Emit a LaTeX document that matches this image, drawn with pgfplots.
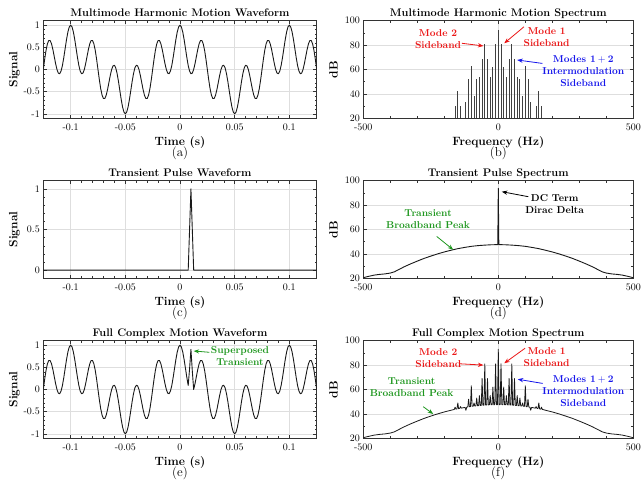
\documentclass[border=0pt]{standalone}
\usepackage{pgfplots}
\pgfplotsset{compat=1.18}
\usepackage{pgfplotstable}
\usetikzlibrary{arrows.meta}

\definecolor{annred}{RGB}{235,22,22}
\definecolor{annblue}{RGB}{22,22,235}
\definecolor{anngreen}{RGB}{30,150,30}

% time samples (s), two-mode signal, two-mode signal with the transient added
\pgfplotstableread{
t a e
-0.125 0 0
-0.12375 0.2306 0.2306
-0.1225 0.4318 0.4318
-0.12125 0.5787 0.5787
-0.12 0.6545 0.6545
-0.11875 0.6533 0.6533
-0.1175 0.5806 0.5806
-0.11625 0.4526 0.4526
-0.115 0.2939 0.2939
-0.11375 0.1334 0.1334
-0.1125 0 0
-0.11125 -0.0817 -0.0817
-0.11 -0.0955 -0.0955
-0.10875 -0.0356 -0.0356
-0.1075 0.0920 0.0920
-0.10625 0.2706 0.2706
-0.105 0.4755 0.4755
-0.10375 0.6775 0.6775
-0.1025 0.8474 0.8474
-0.10125 0.9604 0.9604
-0.1 1 1
-0.09875 0.9604 0.9604
-0.0975 0.8474 0.8474
-0.09625 0.6775 0.6775
-0.095 0.4755 0.4755
-0.09375 0.2706 0.2706
-0.0925 0.0920 0.0920
-0.09125 -0.0356 -0.0356
-0.09 -0.0955 -0.0955
-0.08875 -0.0817 -0.0817
-0.0875 0 0
-0.08625 0.1334 0.1334
-0.085 0.2939 0.2939
-0.08375 0.4526 0.4526
-0.0825 0.5806 0.5806
-0.08125 0.6533 0.6533
-0.08 0.6545 0.6545
-0.07875 0.5787 0.5787
-0.0775 0.4318 0.4318
-0.07625 0.2306 0.2306
-0.075 0 0
-0.07375 -0.2306 -0.2306
-0.0725 -0.4318 -0.4318
-0.07125 -0.5787 -0.5787
-0.07 -0.6545 -0.6545
-0.06875 -0.6533 -0.6533
-0.0675 -0.5806 -0.5806
-0.06625 -0.4526 -0.4526
-0.065 -0.2939 -0.2939
-0.06375 -0.1334 -0.1334
-0.0625 0 0
-0.06125 0.0817 0.0817
-0.06 0.0955 0.0955
-0.05875 0.0356 0.0356
-0.0575 -0.0920 -0.0920
-0.05625 -0.2706 -0.2706
-0.055 -0.4755 -0.4755
-0.05375 -0.6775 -0.6775
-0.0525 -0.8474 -0.8474
-0.05125 -0.9604 -0.9604
-0.05 -1 -1
-0.04875 -0.9604 -0.9604
-0.0475 -0.8474 -0.8474
-0.04625 -0.6775 -0.6775
-0.045 -0.4755 -0.4755
-0.04375 -0.2706 -0.2706
-0.0425 -0.0920 -0.0920
-0.04125 0.0356 0.0356
-0.04 0.0955 0.0955
-0.03875 0.0817 0.0817
-0.0375 0 0
-0.03625 -0.1334 -0.1334
-0.035 -0.2939 -0.2939
-0.03375 -0.4526 -0.4526
-0.0325 -0.5806 -0.5806
-0.03125 -0.6533 -0.6533
-0.03 -0.6545 -0.6545
-0.02875 -0.5787 -0.5787
-0.0275 -0.4318 -0.4318
-0.02625 -0.2306 -0.2306
-0.025 0 0
-0.02375 0.2306 0.2306
-0.0225 0.4318 0.4318
-0.02125 0.5787 0.5787
-0.02 0.6545 0.6545
-0.01875 0.6533 0.6533
-0.0175 0.5806 0.5806
-0.01625 0.4526 0.4526
-0.015 0.2939 0.2939
-0.01375 0.1334 0.1334
-0.0125 0 0
-0.01125 -0.0817 -0.0817
-0.01 -0.0955 -0.0955
-0.00875 -0.0356 -0.0356
-0.0075 0.0920 0.0920
-0.00625 0.2706 0.2706
-0.005 0.4755 0.4755
-0.00375 0.6775 0.6775
-0.0025 0.8474 0.8474
-0.00125 0.9604 0.9604
0 1 1
0.00125 0.9604 0.9604
0.0025 0.8474 0.8474
0.00375 0.6775 0.6775
0.005 0.4755 0.4755
0.00625 0.2706 0.2706
0.0075 0.0920 0.0920
0.00875 -0.0356 0.4644
0.01 -0.0955 0.9045
0.01125 -0.0817 0.4183
0.0125 0 0
0.01375 0.1334 0.1334
0.015 0.2939 0.2939
0.01625 0.4526 0.4526
0.0175 0.5806 0.5806
0.01875 0.6533 0.6533
0.02 0.6545 0.6545
0.02125 0.5787 0.5787
0.0225 0.4318 0.4318
0.02375 0.2306 0.2306
0.025 0 0
0.02625 -0.2306 -0.2306
0.0275 -0.4318 -0.4318
0.02875 -0.5787 -0.5787
0.03 -0.6545 -0.6545
0.03125 -0.6533 -0.6533
0.0325 -0.5806 -0.5806
0.03375 -0.4526 -0.4526
0.035 -0.2939 -0.2939
0.03625 -0.1334 -0.1334
0.0375 0 0
0.03875 0.0817 0.0817
0.04 0.0955 0.0955
0.04125 0.0356 0.0356
0.0425 -0.0920 -0.0920
0.04375 -0.2706 -0.2706
0.045 -0.4755 -0.4755
0.04625 -0.6775 -0.6775
0.0475 -0.8474 -0.8474
0.04875 -0.9604 -0.9604
0.05 -1 -1
0.05125 -0.9604 -0.9604
0.0525 -0.8474 -0.8474
0.05375 -0.6775 -0.6775
0.055 -0.4755 -0.4755
0.05625 -0.2706 -0.2706
0.0575 -0.0920 -0.0920
0.05875 0.0356 0.0356
0.06 0.0955 0.0955
0.06125 0.0817 0.0817
0.0625 0 0
0.06375 -0.1334 -0.1334
0.065 -0.2939 -0.2939
0.06625 -0.4526 -0.4526
0.0675 -0.5806 -0.5806
0.06875 -0.6533 -0.6533
0.07 -0.6545 -0.6545
0.07125 -0.5787 -0.5787
0.0725 -0.4318 -0.4318
0.07375 -0.2306 -0.2306
0.075 0 0
0.07625 0.2306 0.2306
0.0775 0.4318 0.4318
0.07875 0.5787 0.5787
0.08 0.6545 0.6545
0.08125 0.6533 0.6533
0.0825 0.5806 0.5806
0.08375 0.4526 0.4526
0.085 0.2939 0.2939
0.08625 0.1334 0.1334
0.0875 0 0
0.08875 -0.0817 -0.0817
0.09 -0.0955 -0.0955
0.09125 -0.0356 -0.0356
0.0925 0.0920 0.0920
0.09375 0.2706 0.2706
0.095 0.4755 0.4755
0.09625 0.6775 0.6775
0.0975 0.8474 0.8474
0.09875 0.9604 0.9604
0.1 1 1
0.10125 0.9604 0.9604
0.1025 0.8474 0.8474
0.10375 0.6775 0.6775
0.105 0.4755 0.4755
0.10625 0.2706 0.2706
0.1075 0.0920 0.0920
0.10875 -0.0356 -0.0356
0.11 -0.0955 -0.0955
0.11125 -0.0817 -0.0817
0.1125 0 0
0.11375 0.1334 0.1334
0.115 0.2939 0.2939
0.11625 0.4526 0.4526
0.1175 0.5806 0.5806
0.11875 0.6533 0.6533
0.12 0.6545 0.6545
0.12125 0.5787 0.5787
0.1225 0.4318 0.4318
0.12375 0.2306 0.2306
0.125 0 0
}\wavedata

\newcommand{\titlefont}{\fontsize{11}{13}\selectfont\bfseries}
\newcommand{\labelfont}{\fontsize{12}{14}\selectfont\bfseries}
\newcommand{\letterfont}{\fontsize{13}{15}\selectfont}
\newcommand{\annfont}{\fontsize{10}{12}\selectfont\bfseries}

% title, x label, y label and panel letter around the current axis
\newcommand{\paneltext}[4]{%
  \node[anchor=base, yshift=4pt, font=\titlefont] at (rel axis cs:0.5,1) {#1};
  \node[anchor=base, yshift=-26.8pt, font=\labelfont] at (rel axis cs:0.5,0) {#2};
  \node[anchor=base, yshift=-38.6pt, font=\letterfont] at (rel axis cs:0.5,0) {#4};
  \node[xshift=-25.8pt, rotate=90, anchor=base, font=\labelfont] at (rel axis cs:0,0.5) {#3};
}

\tikzset{
  arr/.style={-{Stealth[length=5.5pt,width=4.2pt]}, line width=0.8pt},
  ann/.style={font=\annfont, align=center},
}

\pgfplotsset{
  panel/.style={
    scale only axis, height=97.6pt, anchor=north west,
    clip mode=individual,
    axis line style={black!80, line width=0.5pt},
    every tick/.style={black!80, line width=0.45pt},
    major tick length=3.2pt, minor tick length=2pt,
    tick align=inside, tick pos=both,
    grid=major,
    major grid style={black!13, line width=0.45pt},
    tick label style={font=\fontsize{10}{12}\selectfont},
    xticklabel style={yshift=-2.2pt},
    scaled ticks=false,
  },
  timeaxis/.style={panel, width=273.4pt,
    xmin=-0.125, xmax=0.125,
    xtick={-0.1,-0.05,0,0.05,0.1}, xticklabels={-0.1,-0.05,0,0.05,0.1},
    minor x tick num=4, minor y tick num=4},
  freqaxis/.style={panel, width=270pt,
    xmin=-500, xmax=500, ymin=20, ymax=100,
    xtick={-500,0,500}, xticklabels={-500,0,500},
    ytick={20,40,60,80,100},
    minor x tick num=4, minor y tick num=1},
  wave/.style={black!90, line width=0.9pt, line join=round},
}

\begin{document}
\begin{tikzpicture}

% (a) two-mode waveform
\begin{axis}[timeaxis, at={(43.3pt,-20.7pt)},
  ymin=-1.1, ymax=1.1, ytick={-1,-0.5,0,0.5,1}, yticklabels={-1,-0.5,0,0.5,1}]
\addplot[wave] table[x=t, y=a] {\wavedata};
\paneltext{Multimode Harmonic Motion Waveform}{Time (s)}{Signal}{(a)}
\end{axis}

% (b) line spectrum of the two-mode signal
\begin{axis}[freqaxis, at={(363.3pt,-20.7pt)}]
\addplot[ycomb, black!75, line width=1pt] coordinates {
(-160,30) (-150,42) (-140,30) (-120,33) (-110,52) (-100,63) (-90,38)
(-80,52) (-70,54) (-60,69) (-50,81) (-40,69) (-30,54) (-20,62) (-10,81)
(0,92.4)
(10,81) (20,62) (30,54) (40,69) (50,81) (60,69) (70,54) (80,52)
(90,38) (100,63) (110,52) (120,33) (140,30) (150,42) (160,30)};
\paneltext{Multimode Harmonic Motion Spectrum}{Frequency (Hz)}{dB}{(b)}
\node[ann, annred] at (axis cs:-223,84.6) {Mode 2\\Sideband};
\draw[arr, annred] (axis cs:-135,81.5) -- (axis cs:-55,79.3);
\node[ann, annred] at (axis cs:179,86.9) {Mode 1\\Sideband};
\draw[arr, annred] (axis cs:95,95) -- (axis cs:22,81.5);
\node[ann, annblue] at (axis cs:315,59) {Modes $\mathbf{1+2}$\\Intermodulation\\Sideband};
\draw[arr, annblue] (axis cs:163,65) -- (axis cs:70,67.8);
\end{axis}

% (c) transient pulse
\begin{axis}[timeaxis, at={(43.3pt,-180.7pt)},
  ymin=-0.1, ymax=1.1, ytick={0,0.5,1}, yticklabels={0,0.5,1}]
\addplot[wave] coordinates {(-0.125,0) (0.0075,0) (0.00875,0.5) (0.01,1) (0.01125,0.5) (0.0125,0) (0.125,0)};
\paneltext{Transient Pulse Waveform}{Time (s)}{Signal}{(c)}
\end{axis}

% (d) spectrum of the pulse
\begin{axis}[freqaxis, at={(363.3pt,-180.7pt)}]
\addplot[wave] coordinates {
(-500,20.5) (-480,21.6) (-460,22.6) (-440,23.2) (-420,23.6) (-400,24.3)
(-385,25.3) (-370,27.0) (-350,29.3) (-325,31.8) (-300,34.1) (-275,36.3)
(-250,38.2) (-225,40.0) (-200,41.6) (-175,43.0) (-150,44.3) (-125,45.3)
(-100,46.2) (-75,46.8) (-50,47.2) (-25,47.5) (-2,47.6) (0,93.8) (2,47.6)
(25,47.5) (50,47.2) (75,46.8) (100,46.2) (125,45.3) (150,44.3) (175,43.0)
(200,41.6) (225,40.0) (250,38.2) (275,36.3) (300,34.1) (325,31.8)
(350,29.3) (370,27.0) (385,25.3) (400,24.3) (420,23.6) (440,23.2)
(460,22.6) (480,21.6) (500,20.5)};
\paneltext{Transient Pulse Spectrum}{Frequency (Hz)}{dB}{(d)}
\node[ann] at (axis cs:209,80.5) {DC Term\\Dirac Delta};
\draw[arr, black] (axis cs:111,86.9) -- (axis cs:13,91);
\node[ann, anngreen] at (axis cs:-260,68.4) {Transient\\Broadband Peak};
\draw[arr, anngreen] (axis cs:-228,54.3) -- (axis cs:-167,43.4);
\end{axis}

% (e) two-mode waveform with the transient
\begin{axis}[timeaxis, at={(43.3pt,-340.7pt)},
  ymin=-1.1, ymax=1.1, ytick={-1,-0.5,0,0.5,1}, yticklabels={-1,-0.5,0,0.5,1}]
\addplot[wave] table[x=t, y=e] {\wavedata};
\paneltext{Full Complex Motion Waveform}{Time (s)}{Signal}{(e)}
\node[ann, anngreen] at (axis cs:0.0549,0.76) {Superposed\\Transient};
\draw[arr, anngreen] (axis cs:0.0268,0.839) -- (axis cs:0.0125,0.868);
\end{axis}

% (f) spectrum of the full signal
\begin{axis}[freqaxis, at={(363.3pt,-340.7pt)}]
\addplot[wave, line width=0.8pt] coordinates {
(-500,20.5) (-480,21.6) (-460,22.6) (-440,23.2) (-420,23.6) (-400,24.3)
(-385,25.3) (-370,27.0) (-350,29.3) (-325,31.8) (-300,34.1) (-275,36.3)
(-250,38.2) (-225,40.0) (-200,41.6) (-175,43.0)
(-163,43.7) (-160,45.5) (-157,43.9) (-153,44.1) (-150,49) (-147,44.3)
(-143,44.6) (-140,46) (-137,44.7) (-130,45.07)
(-123,45.3) (-120,43) (-117,45.5) (-113,45.7) (-110,52) (-107,45.9)
(-103,46.0) (-100,63) (-97,46.2) (-93,46.3) (-90,49) (-87,46.4)
(-83,46.6) (-80,53) (-77,46.7) (-73,46.8) (-70,55) (-67,46.9)
(-63,47.0) (-60,69) (-57,47.1) (-53,47.2) (-50,81) (-47,47.25)
(-43,47.3) (-40,69) (-37,47.4) (-33,47.45) (-30,55) (-27,47.5)
(-23,47.5) (-20,62) (-17,47.55) (-13,47.6) (-10,81) (-7,47.6)
(-3,47.6) (0,93) (3,47.6)
(7,47.6) (10,81) (13,47.6) (17,47.55) (20,62) (23,47.5)
(27,47.5) (30,55) (33,47.45) (37,47.4) (40,69) (43,47.3)
(47,47.25) (50,81) (53,47.2) (57,47.1) (60,69) (63,47.0)
(67,46.9) (70,55) (73,46.8) (77,46.7) (80,53) (83,46.6)
(87,46.4) (90,49) (93,46.3) (97,46.2) (100,63) (103,46.0)
(107,45.9) (110,52) (113,45.7) (117,45.5) (120,43) (123,45.3)
(130,45.07) (137,44.7) (140,46) (143,44.6) (147,44.3) (150,49) (153,44.1)
(157,43.9) (160,45.5) (163,43.7)
(175,43.0) (200,41.6) (225,40.0) (250,38.2) (275,36.3) (300,34.1) (325,31.8)
(350,29.3) (370,27.0) (385,25.3) (400,24.3) (420,23.6) (440,23.2)
(460,22.6) (480,21.6) (500,20.5)};
\paneltext{Full Complex Motion Spectrum}{Frequency (Hz)}{dB}{(f)}
\node[ann, annred] at (axis cs:-222,85.6) {Mode 2\\Sideband};
\draw[arr, annred] (axis cs:-144,81.1) -- (axis cs:-55,80);
\node[ann, annred] at (axis cs:179,86.9) {Mode 1\\Sideband};
\draw[arr, annred] (axis cs:99,93.8) -- (axis cs:22,81.5);
\node[ann, annblue] at (axis cs:315,59) {Modes $\mathbf{1+2}$\\Intermodulation\\Sideband};
\draw[arr, annblue] (axis cs:164,65) -- (axis cs:72,68.4);
\node[ann, anngreen] at (axis cs:-321,61.6) {Transient\\Broadband Peak};
\draw[arr, anngreen] (axis cs:-278,45.9) -- (axis cs:-241,39.9);
\end{axis}

\pgfresetboundingbox
\path (0pt,0pt) rectangle (641pt,-483pt);
\end{tikzpicture}
\end{document}
